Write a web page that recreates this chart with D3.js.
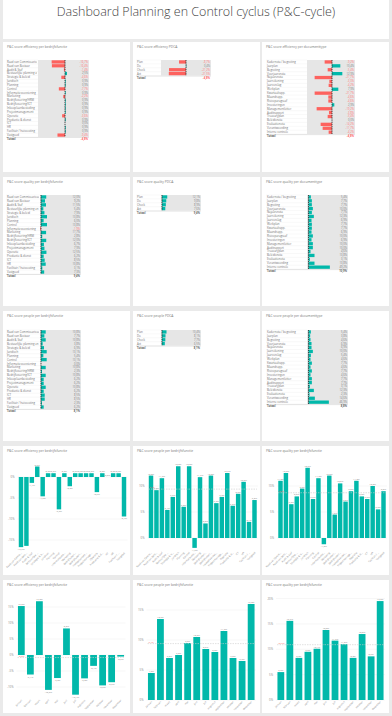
<!DOCTYPE html>
<html>
<head>
<meta charset="utf-8">
<script src="https://cdn.jsdelivr.net/npm/d3@7"></script>
<style>
  body { margin: 0; background: #eaeaea; }
  text { font-family: "Open Sans", "Segoe UI", sans-serif; }
</style>
</head>
<body>
<svg id="dash" width="392" height="716"></svg>
<script>
// ---- data ----
var functies = ["Raad van Commissarissen", "Raad van Bestuur", "Audit & Staf", "Bestuurlijke planning en control",
  "Strategie & beleid", "Juridisch", "Planning", "Control", "Informatievoorziening", "Marketing",
  "Bedrijfsvoering/HRM", "Bedrijfsvoering/ICT", "Inkoop/aanbesteding", "Projectmanagement", "Operatie",
  "Productie & dienst", "ICT", "HR", "Facilitair / huisvesting", "Vastgoed"];
var efficiencyFunctie = [-16.7, -16.4, -1.4, 2.5, -4.6, 0.9, 0.9, -7.7, 0.9, -2.2, 0.9, 0.9, 0.9, 0.9, -3.6, 0.9, 0.0, 0.9, 0.9, -9.4];
var qualityFunctie = [12.0, 9.2, 11.5, 5.4, 7.9, 13.8, 6.0, 13.8, -1.9, 11.7, 2.8, 12.0, 6.7, 7.9, 12.5, 6.2, 8.5, 10.8, 3.1, 7.3];
var peopleFunctie = [10.8, 7.7, 10.8, 3.8, 6.9, 13.1, 5.4, 13.1, 0.0, 10.8, 2.3, 10.8, 6.2, 6.2, 10.8, 6.2, 8.5, 8.5, 2.3, 6.2];

var pdca = ["Plan", "Do", "Check", "Act"];
var efficiencyPdca = [-8.7, 0.4, -21.2, -21.5];
var qualityPdca = [12.1, 9.8, 8.9, 7.6];
var peoplePdca = [10.4, 8.1, 7.7, 6.5];

var documenttypes = ["Kadernota / begroting", "Jaarplan", "Begroting", "Voorjaarsnota", "Najaarsnota", "Jaarrekening",
  "Jaarverslag", "Werkplan", "Kwartaalrapp.", "Maandrapp.", "Risicoparagraaf", "Investeringen", "Managementletter",
  "Auditrapport", "Treasuryplan", "Beleidsnota", "Evaluatienota", "Verantwoording", "Interne controle"];
var efficiencyDoc = [-9.2, 10.4, -5.4, 12.9, -21.7, -3.3, -4.2, 7.9, -21.7, -4.6, -4.6, 2.9, -19.2, -3.8, -5.4, 0.0, -14.2, -11.7, -4.2];
var qualityDoc = [5.4, 7.7, 7.7, 10.0, 7.7, 12.3, 6.9, 7.7, 7.7, 6.9, 10.0, 6.9, 10.0, 10.0, 4.6, 13.8, 3.1, 13.8, 49.2];
var peopleDoc = [5.4, 3.8, 4.6, 6.9, 6.9, 10.0, 5.4, 4.6, 7.7, 4.6, 7.7, 4.6, 7.7, 7.7, 3.1, 12.3, 2.3, 14.6, 46.9];

var totals = {effFunctie: -4.8, effPdca: -4.8, effDoc: -4.8, qualFunctie: 9.4, qualPdca: 9.4, qualDoc: 10.9,
  peopleFunctie: 8.1, peoplePdca: 8.1, peopleDoc: 8.8};

var maanden = ["januari", "februari", "maart", "april", "mei", "juni", "juli", "augustus", "september", "oktober", "november", "december"];
var efficiencyMaand = [15.3, -6.1, 16.8, -10.9, -7.2, 8.3, -12.4, -7.3, -3.4, -9.5, -8.5, -0.5];
var peopleMaand = [4.5, 13.5, 7.0, 7.5, 9.5, 10.5, 8.5, 8.0, 11.5, 7.0, 6.5, 16.0];
var qualityMaand = [5.5, 15.6, 8.3, 9.5, 10.1, 13.8, 11.7, 11.0, 8.3, 13.0, 8.6, 19.5];
var peopleFunctieBars = [11.0, 12.5, 6.5, 8.0, 9.5, 13.5, 7.5, 11.5, -1.2, 12.0, 4.5, 10.5, 7.0, 9.0, 11.0, 8.0, 7.5, 10.0, 5.5, 9.0];
var averages = {effMaand: -0.8, peopleMaand: 9.4, qualMaand: 10.9, qualFunctie: 9.4, peopleFunctie: 8.7};

// ---- helpers ----
var TEAL = "#01b8aa", RED = "#fd625e";
var pct = function (v) { return d3.format(".1f")(v).replace(".", ",").replace("−", "-") + "%"; };
var short = function (s) { return s.length > 14 ? s.slice(0, 13) + "…" : s; };
var svg = d3.select("#dash");
var defs = svg.append("defs");
var clipN = 0;

var colX = [3, 133, 262], panelW = 127;
var rowY = [42, 177, 311, 446, 580], rowH = [130, 129, 130, 129, 133];

svg.append("rect").attr("x", 3).attr("y", 0).attr("width", 386).attr("height", 39).attr("fill", "#fff");
svg.append("text").attr("x", 196).attr("y", 16).attr("text-anchor", "middle")
  .attr("font-size", 12.5).attr("fill", "#444").attr("font-weight", 300)
  .text("Dashboard Planning en Control cyclus (P&C-cycle)");

function panel(c, r, title) {
  var g = svg.append("g");
  g.append("rect").attr("x", colX[c]).attr("y", rowY[r]).attr("width", panelW).attr("height", rowH[r]).attr("fill", "#fff");
  g.append("text").attr("x", colX[c] + 4).attr("y", rowY[r] + 6).attr("font-size", 3.3).attr("fill", "#777").text(title);
  return g;
}

function table(g, o) {
  var n = o.labels.length, rh = o.rowH;
  var x = d3.scaleLinear().domain(o.domain).range([o.barX, o.barX + o.barW]);
  var y = function (i) { return o.y + i * rh; };
  var cid = "clip" + (clipN++);
  defs.append("clipPath").attr("id", cid).append("rect")
    .attr("x", o.labelX - 1).attr("y", o.y).attr("width", o.barX - o.labelX).attr("height", n * rh);
  g.append("rect").attr("x", o.barX).attr("y", o.y).attr("width", o.barW).attr("height", n * rh).attr("fill", "#e6e6e6");
  g.selectAll(".sep").data(d3.range(n + 1)).enter().append("line")
    .attr("x1", o.labelX - 1).attr("x2", o.barX).attr("y1", y).attr("y2", y)
    .attr("stroke", "#eeeeee").attr("stroke-width", 0.4);
  g.append("g").attr("clip-path", "url(#" + cid + ")")
    .selectAll(".lab").data(o.labels).enter().append("text")
    .attr("x", o.labelX).attr("y", function (d, i) { return y(i) + rh * 0.74; })
    .attr("font-size", 2.8).attr("fill", "#707070").text(function (d) { return d; });
  g.selectAll(".bar").data(o.values).enter().append("rect")
    .attr("x", function (d) { return Math.min(x(0), x(d)); })
    .attr("y", function (d, i) { return y(i) + 0.3; })
    .attr("width", function (d) { return Math.abs(x(d) - x(0)); })
    .attr("height", rh - 0.6)
    .attr("fill", function (d) { return d < 0 ? RED : TEAL; });
  g.append("line").attr("x1", x(0)).attr("x2", x(0)).attr("y1", o.y).attr("y2", y(n))
    .attr("stroke", "#222").attr("stroke-width", 0.8).attr("stroke-dasharray", "1.4,0.8");
  g.selectAll(".val").data(o.values).enter().append("text")
    .attr("x", o.barX + o.barW - 1).attr("y", function (d, i) { return y(i) + rh * 0.74; })
    .attr("text-anchor", "end").attr("font-size", 2.7)
    .attr("fill", function (d) { return d < 0 ? "#f77" : "#808080"; }).text(pct);
  g.append("line").attr("x1", o.labelX - 1).attr("x2", o.barX + o.barW).attr("y1", y(n) + 0.5).attr("y2", y(n) + 0.5)
    .attr("stroke", "#ccc").attr("stroke-width", 0.5);
  g.append("text").attr("x", o.labelX).attr("y", y(n) + 3.3).attr("font-size", 2.7).attr("font-weight", 700)
    .attr("fill", "#666").text("Totaal");
  g.append("text").attr("x", o.barX + o.barW - 1).attr("y", y(n) + 3.3).attr("text-anchor", "end")
    .attr("font-size", 2.7).attr("font-weight", 700).attr("fill", o.total < 0 ? "#f66" : "#666").text(pct(o.total));
}

function bars(g, o) {
  var x = d3.scaleBand().domain(o.labels).range([o.x0, o.x1]).paddingInner(o.pad).paddingOuter(0.05);
  var y = d3.scaleLinear().domain(o.domain).range(o.range);
  g.selectAll(".grid").data(o.ticks).enter().append("line")
    .attr("x1", o.x0 - 1).attr("x2", o.x1 + 1).attr("y1", y).attr("y2", y)
    .attr("stroke", "#eeeeee").attr("stroke-width", 0.5);
  g.selectAll(".tick").data(o.ticks).enter().append("text")
    .attr("x", o.x0 - 4).attr("y", function (d) { return y(d) + 1; })
    .attr("text-anchor", "end").attr("font-size", 2.8).attr("fill", "#888")
    .text(function (d) { return d3.format("d")(d).replace("−", "-") + "%"; });
  g.selectAll(".bar").data(o.values).enter().append("rect")
    .attr("x", function (d, i) { return x(o.labels[i]); })
    .attr("y", function (d) { return Math.min(y(0), y(d)); })
    .attr("width", x.bandwidth())
    .attr("height", function (d) { return Math.abs(y(d) - y(0)); })
    .attr("fill", TEAL);
  // data labels; like Power BI, a label that would collide with a previous one is left out
  var kept = [];
  g.selectAll(".dl").data(o.values).enter().append("text")
    .attr("x", function (d, i) { return x(o.labels[i]) + x.bandwidth() / 2; })
    .attr("y", function (d) { return d < 0 ? y(d) + 3 : y(d) - 1; })
    .attr("text-anchor", "middle").attr("font-size", 2.4).attr("fill", "#777").text(pct)
    .each(function () {
      var bb = this.getBBox();
      var hit = kept.some(function (k) {
        return bb.x < k.x + k.width && k.x < bb.x + bb.width && bb.y < k.y + k.height && k.y < bb.y + bb.height;
      });
      if (hit) d3.select(this).remove(); else kept.push(bb);
    });
  if (o.avg !== undefined) {
    g.append("line").attr("x1", o.x0).attr("x2", o.x1).attr("y1", y(o.avg)).attr("y2", y(o.avg))
      .attr("stroke", "#ccc").attr("stroke-width", 0.6).attr("stroke-dasharray", "1.5,1");
    g.append("text").attr("x", o.x0 + 1).attr("y", y(o.avg) - 1).attr("font-size", 2.4)
      .attr("fill", RED).text(pct(o.avg));
  }
  var yb = y(o.domain[0]) + o.labelGap;
  g.selectAll(".xl").data(o.labels).enter().append("text")
    .attr("transform", function (d) { return "translate(" + (x(d) + x.bandwidth() / 2 + 1) + "," + yb + ") rotate(-45)"; })
    .attr("text-anchor", "end").attr("font-size", 2.5).attr("fill", "#888").text(function (d) { return short(d); });
}

// ---- row 1-3: tables ----
var t;
t = panel(0, 0, "P&C score efficiency per bedrijfsfunctie");
table(t, {labels: functies, values: efficiencyFunctie, total: totals.effFunctie, labelX: 7, barX: 38, barW: 51, y: 60, rowH: 3.85, domain: [-33.75, 30]});
t = panel(1, 0, "P&C score efficiency PDCA");
table(t, {labels: pdca, values: efficiencyPdca, total: totals.effPdca, labelX: 137, barX: 161, barW: 50, y: 60, rowH: 3.9, domain: [-31.25, 31.25]});
t = panel(2, 0, "P&C score efficiency per documenttype");
table(t, {labels: documenttypes, values: efficiencyDoc, total: totals.effDoc, labelX: 267, barX: 307, barW: 48, y: 60, rowH: 3.9, domain: [-31.25, 28.75]});

t = panel(0, 1, "P&C score quality per bedrijfsfunctie");
table(t, {labels: functies, values: qualityFunctie, total: totals.qualFunctie, labelX: 7, barX: 40, barW: 41, y: 195, rowH: 3.95, domain: [-2.3, 92]});
t = panel(1, 1, "P&C score quality PDCA");
table(t, {labels: pdca, values: qualityPdca, total: totals.qualPdca, labelX: 137, barX: 161, barW: 40, y: 195, rowH: 3.9, domain: [-2.3, 90]});
t = panel(2, 1, "P&C score quality per documenttype");
table(t, {labels: documenttypes, values: qualityDoc, total: totals.qualDoc, labelX: 267, barX: 307, barW: 41, y: 195, rowH: 3.9, domain: [-3.5, 91]});

t = panel(0, 2, "P&C score people per bedrijfsfunctie");
table(t, {labels: functies, values: peopleFunctie, total: totals.peopleFunctie, labelX: 7, barX: 40, barW: 41, y: 330, rowH: 3.95, domain: [-2.3, 92]});
t = panel(1, 2, "P&C score people PDCA");
table(t, {labels: pdca, values: peoplePdca, total: totals.peoplePdca, labelX: 137, barX: 161, barW: 40, y: 330, rowH: 3.9, domain: [-2.3, 90]});
t = panel(2, 2, "P&C score people per documenttype");
table(t, {labels: documenttypes, values: peopleDoc, total: totals.peopleDoc, labelX: 267, barX: 307, barW: 41, y: 330, rowH: 3.9, domain: [-3.5, 91]});

// ---- row 4-5: bar charts ----
var b;
b = panel(0, 3, "P&C score efficiency per bedrijfsfunctie");
bars(b, {labels: functies, values: efficiencyFunctie, x0: 18.5, x1: 126.5, pad: 0.18, domain: [-17, 3], range: [548.4, 464.4], ticks: [0, -5, -10, -15], labelGap: 5});
b = panel(1, 3, "P&C score people per bedrijfsfunctie");
bars(b, {labels: functies, values: qualityFunctie, x0: 148.5, x1: 257, pad: 0.18, domain: [-2.5, 14.5], range: [551, 462.6], ticks: [0, 5, 10], avg: averages.qualFunctie, labelGap: 2});
b = panel(2, 3, "P&C score quality per bedrijfsfunctie");
bars(b, {labels: functies, values: peopleFunctieBars, x0: 278, x1: 386, pad: 0.18, domain: [-2.5, 14.5], range: [551, 462.6], ticks: [0, 5, 10], avg: averages.peopleFunctie, labelGap: 2});

b = panel(0, 4, "P&C score efficiency per bedrijfsfunctie");
bars(b, {labels: maanden, values: efficiencyMaand, x0: 17.5, x1: 124.5, pad: 0.25, domain: [-13, 17.5], range: [696.6, 599], ticks: [15, 10, 5, 0, -5, -10], avg: averages.effMaand, labelGap: 4});
b = panel(1, 4, "P&C score people per bedrijfsfunctie");
bars(b, {labels: maanden, values: peopleMaand, x0: 147.5, x1: 255, pad: 0.25, domain: [0, 17], range: [700, 598], ticks: [0, 5, 10, 15], avg: averages.peopleMaand, labelGap: 2});
b = panel(2, 4, "P&C score quality per bedrijfsfunctie");
bars(b, {labels: maanden, values: qualityMaand, x0: 277, x1: 384, pad: 0.25, domain: [0, 20.5], range: [700, 596], ticks: [0, 5, 10, 15, 20], avg: averages.qualMaand, labelGap: 2});
</script>
</body>
</html>
